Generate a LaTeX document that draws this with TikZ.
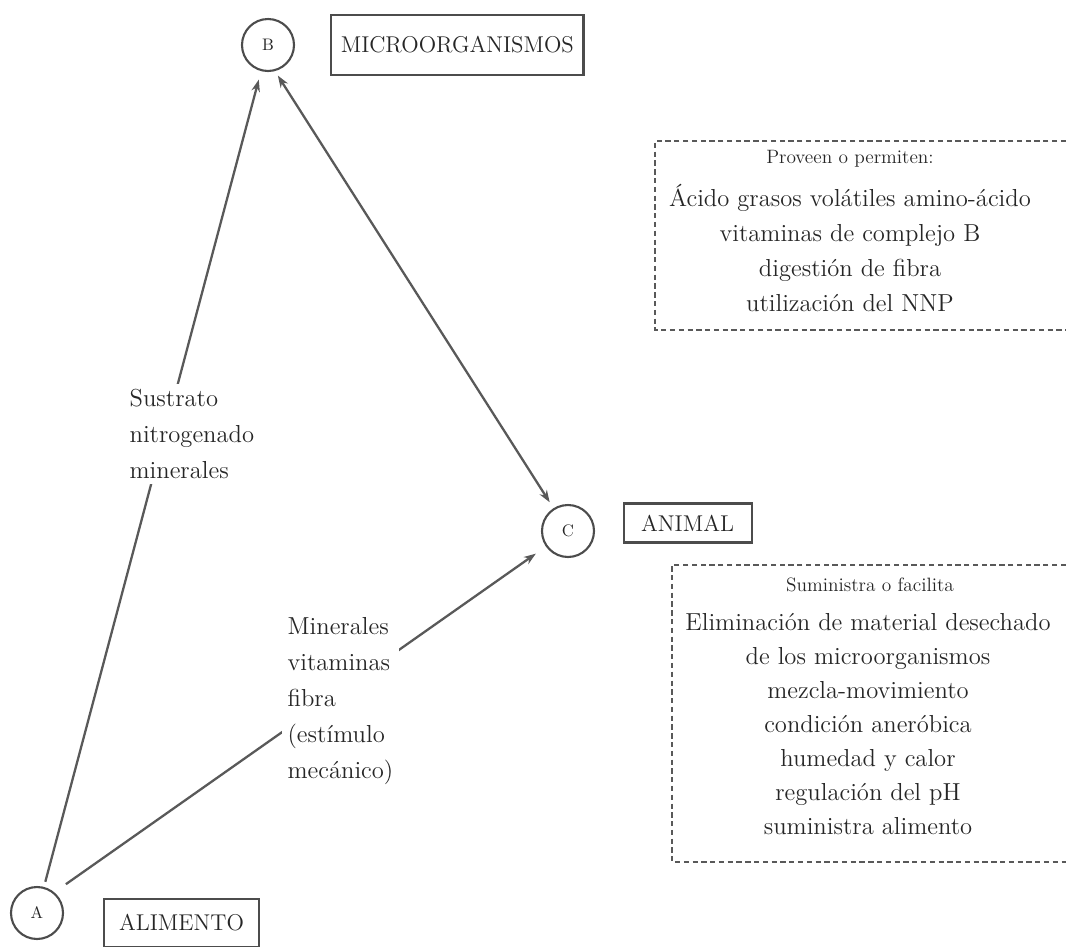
\documentclass[tikz,border=0pt]{standalone}
\usepackage{tikz}
\usetikzlibrary{positioning, arrows.meta}

\begin{document}
\begin{tikzpicture}[
        x=0.02cm, y=-0.02cm,
        letter/.style={circle, draw=black!70, line width=1.2pt, minimum size=1.04cm, inner sep=0pt, font=\fontsize{9.5}{11}\selectfont, text=black!85},
        namebox/.style={rectangle, draw=black!70, line width=1.2pt, text=black!85, font=\fontsize{13}{15}\selectfont},
        arrow/.style={-{Stealth[length=2.4mm, width=1.7mm]}, line width=1.3pt, black!65},
        dashbox/.style={dash pattern=on 3pt off 2pt, line width=1pt, black!65},
        note/.style={align=left, fill=white, inner sep=3pt, text=black!85, font=\fontsize{14}{20.5}\selectfont},
        listtext/.style={align=center, text=black!85, font=\fontsize{14}{20}\selectfont},
        listhead/.style={text=black!85, font=\fontsize{11}{13}\selectfont}
    ]
    \useasboundingbox (0,0) rectangle (1066,947);

    % Nodes
    \node[letter] (A) at (37,913) {A};
    \node[letter] (B) at (268,45) {B};
    \node[letter] (C) at (568,531) {C};
    \node[namebox, minimum width=5.05cm, minimum height=1.2cm, right=0.7cm of B] (micro) {MICROORGANISMOS};
    \node[namebox, minimum width=2.56cm, minimum height=0.78cm, right=0.55cm of C, yshift=0.16cm] (animal) {ANIMAL};
    \node[namebox, minimum width=3.1cm, minimum height=0.96cm, right=0.78cm of A, yshift=-0.2cm] (alimento) {ALIMENTO};

    % Arrows
    \draw[arrow, shorten <=3pt, shorten >=5pt] (A) -- (B);
    \draw[arrow, {Stealth[length=2.4mm, width=1.7mm]}-{Stealth[length=2.4mm, width=1.7mm]}, shorten <=3pt, shorten >=4pt] (B.-75) -- (C);
    \draw[arrow, shorten <=8pt, shorten >=7pt] (A.50) -- (C);

    % Labels on the arrows
    \node[note, anchor=west] (sustrato) at (124,434) {Sustrato\\nitrogenado\\minerales};
    \node[note, anchor=west] (minerales) at (282,701) {Minerales\\vitaminas\\fibra\\(estímulo\\mecánico)};

    % Microorganismos
    \draw[dashbox] (1066,141) -| (655,330) -- (1066,330);
    \node[listhead] (provee) at (850,159) {Proveen o permiten:};
    \node[listtext] (proveelist) at (850,248) {Ácido grasos volátiles amino-ácido\\vitaminas de complejo B\\digestión de fibra\\utilización del NNP};

    % Animal
    \draw[dashbox] (1066,565) -| (672,862) -- (1066,862);
    \node[listhead] (suministra) at (870,585) {Suministra o facilita};
    \node[listtext, font=\fontsize{14}{19.3}\selectfont] (suministralist) at (868,724) {Eliminación de material desechado\\de los microorganismos\\mezcla-movimiento\\condición aneróbica\\humedad y calor\\regulación del pH\\suministra alimento};
\end{tikzpicture}
\end{document}
